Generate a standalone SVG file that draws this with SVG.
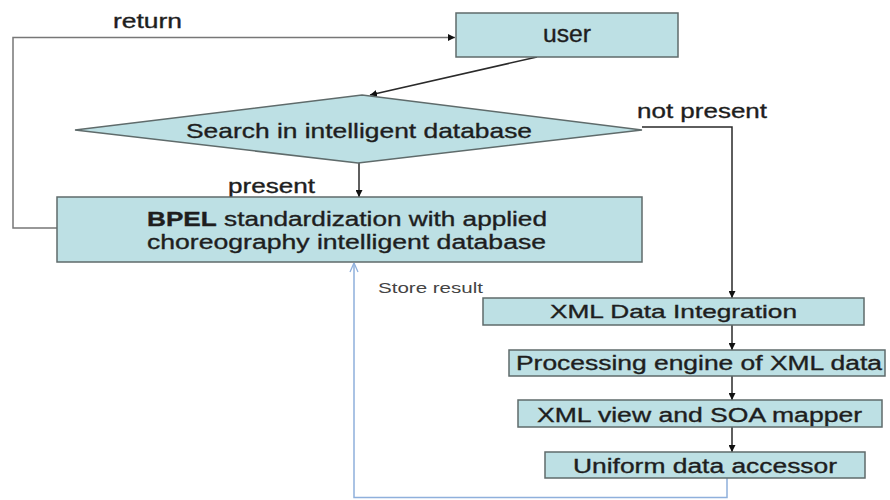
<svg xmlns="http://www.w3.org/2000/svg" width="890" height="500" viewBox="0 0 890 500">
  <style>
    .box { fill: #bde0e4; stroke: #5f6b6b; stroke-width: 1.5; }
    .lbl { font-family: "Liberation Sans", Arial, sans-serif; fill: #1e1e1e; stroke: #1e1e1e; stroke-width: 0.35; }
    .note { font-family: "Liberation Sans", Arial, sans-serif; fill: #444; }
    .edge { fill: none; stroke: #2a2a2a; stroke-width: 1.5; }
    .grey { fill: none; stroke: #777; stroke-width: 1.5; }
    .blue { fill: none; stroke: #8fb0dc; stroke-width: 1.5; }
  </style>
  <defs>
    <marker id="arrow" viewBox="0 0 10 10" refX="10" refY="5" markerWidth="7" markerHeight="7" orient="auto" markerUnits="userSpaceOnUse">
      <path d="M0,0 L10,5 L0,10 z" fill="#111"/>
    </marker>
    <marker id="arrowOpen" viewBox="0 0 10 10" refX="10" refY="5" markerWidth="10" markerHeight="10" orient="auto" markerUnits="userSpaceOnUse">
      <path d="M1,1 L10,5 L1,9" fill="none" stroke="#8fb0dc" stroke-width="1.3"/>
    </marker>
  </defs>
  <rect width="890" height="500" fill="#ffffff"/>

  <!-- connectors -->
  <g id="connectors">
    <polyline class="grey" points="57,228 13,228 13,37.5 455,37.5" marker-end="url(#arrow)"/>
    <line class="edge" x1="537" y1="57" x2="370" y2="95" marker-end="url(#arrow)"/>
    <line class="edge" x1="359" y1="163" x2="359" y2="197" marker-end="url(#arrow)"/>
    <polyline class="edge" points="642,127 732,127 732,298" marker-end="url(#arrow)"/>
    <line class="edge" x1="732" y1="325" x2="732" y2="350" marker-end="url(#arrow)"/>
    <line class="edge" x1="732" y1="376" x2="732" y2="400" marker-end="url(#arrow)"/>
    <line class="edge" x1="732" y1="427" x2="732" y2="452" marker-end="url(#arrow)"/>
    <polyline class="blue" points="727,478 727,497.5 354,497.5 354,263" marker-end="url(#arrowOpen)"/>
    <text class="lbl" x="113" y="28" font-size="20" textLength="69" lengthAdjust="spacingAndGlyphs">return</text>
    <text class="lbl" x="228" y="193" font-size="20" textLength="87" lengthAdjust="spacingAndGlyphs">present</text>
    <text class="lbl" x="637" y="118" font-size="21" textLength="130" lengthAdjust="spacingAndGlyphs">not present</text>
    <text class="note" x="378" y="293" font-size="14" textLength="105" lengthAdjust="spacingAndGlyphs">Store result</text>
  </g>

  <g id="user">
    <rect class="box" x="456" y="13" width="222" height="44"/>
    <text class="lbl" x="543" y="42" font-size="23" textLength="48" lengthAdjust="spacingAndGlyphs">user</text>
  </g>

  <g id="search">
    <polygon class="box" points="362,95 642,130 358,163 75,130"/>
    <text class="lbl" x="186" y="137.5" font-size="21" textLength="346" lengthAdjust="spacingAndGlyphs">Search in intelligent database</text>
  </g>

  <g id="bpel">
    <rect class="box" x="57" y="197" width="585" height="65"/>
    <text class="lbl" x="147" y="225.5" font-size="20" textLength="400" lengthAdjust="spacingAndGlyphs"><tspan font-weight="bold">BPEL</tspan> standardization with applied</text>
    <text class="lbl" x="147" y="249" font-size="20" textLength="399" lengthAdjust="spacingAndGlyphs">choreography intelligent database</text>
  </g>

  <g id="xml-data-integration">
    <rect class="box" x="483" y="298" width="381" height="27"/>
    <text class="lbl" x="550" y="318" font-size="19" textLength="247" lengthAdjust="spacingAndGlyphs">XML Data Integration</text>
  </g>

  <g id="processing-engine">
    <rect class="box" x="509" y="350" width="376" height="26"/>
    <text class="lbl" x="516" y="370" font-size="20" textLength="366" lengthAdjust="spacingAndGlyphs">Processing engine of XML data</text>
  </g>

  <g id="xml-view-mapper">
    <rect class="box" x="518" y="400" width="364" height="27"/>
    <text class="lbl" x="537" y="421.5" font-size="20" textLength="325" lengthAdjust="spacingAndGlyphs">XML view and SOA mapper</text>
  </g>

  <g id="uniform-data-accessor">
    <rect class="box" x="545" y="452" width="320" height="26"/>
    <text class="lbl" x="573" y="473" font-size="20" textLength="264" lengthAdjust="spacingAndGlyphs">Uniform data accessor</text>
  </g>
</svg>
